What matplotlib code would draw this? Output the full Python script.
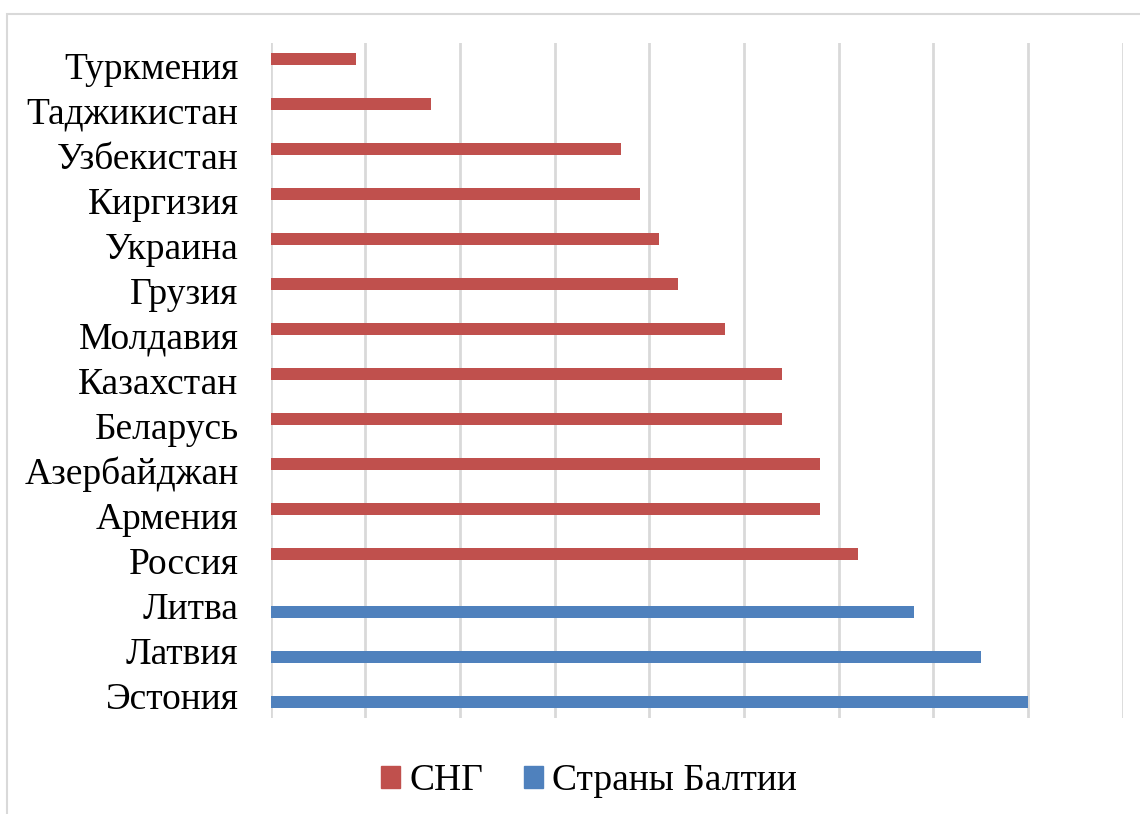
import numpy as np
import matplotlib
matplotlib.use('Agg')
import matplotlib.pyplot as plt
from matplotlib.patches import Rectangle, Patch

plt.rcParams['font.family'] = ['Liberation Serif', 'DejaVu Serif']

# Категории сверху вниз
paises = ['Туркмения', 'Таджикистан', 'Узбекистан', 'Киргизия', 'Украина',
          'Грузия', 'Молдавия', 'Казахстан', 'Беларусь', 'Азербайджан',
          'Армения', 'Россия', 'Литва', 'Латвия', 'Эстония']
sng = [0.9, 1.7, 3.7, 3.9, 4.1, 4.3, 4.8, 5.4, 5.4, 5.8, 5.8, 6.2, 0, 0, 0]
baltia = [0, 0, 0, 0, 0, 0, 0, 0, 0, 0, 0, 0, 6.8, 7.5, 8.0]
series_names = ['СНГ', 'Страны Балтии']
col_sng = '#C0504D'
col_balt = '#4F81BD'

W, H = 1140, 814
fig = plt.figure(figsize=(W / 100, H / 100), dpi=100)
ax = fig.add_axes([270.5 / W, 1 - 718 / H, (1122.7 - 270.5) / W, (718 - 43) / H])

n = len(paises)
y = np.arange(n)
h = 0.25
off = 0.145
ax.barh(y - off, sng, height=h, color=col_sng, linewidth=0, zorder=3)
ax.barh(y + off, baltia, height=h, color=col_balt, linewidth=0, zorder=3)

ax.set_xlim(0, 9)
ax.set_ylim(n - 0.5, -0.5)
ax.set_xticks(np.arange(0, 10))
ax.set_xticklabels([])
ax.set_yticks(y)
ax.set_yticklabels(paises, fontsize=27)
ax.tick_params(length=0, pad=23)
ax.grid(axis='x', color='#D9D9D9', linewidth=2, zorder=0)
for s in ax.spines.values():
    s.set_visible(False)

handles = [Patch(color=col_sng), Patch(color=col_balt)]
fig.legend(handles, series_names, loc='center', bbox_to_anchor=(589 / W, 1 - 781 / H),
           ncol=2, frameon=False, fontsize=27, handlelength=0.5, handleheight=0.5,
           handletextpad=0.25, columnspacing=1.1)

# рамка области диаграммы
fig.patches.append(Rectangle((7 / W, -0.01), 1.05, 1 - 14 / H + 0.01, transform=fig.transFigure,
                             fill=False, edgecolor='#D9D9D9', linewidth=1.5))

fig.savefig('out.png', dpi=100)
